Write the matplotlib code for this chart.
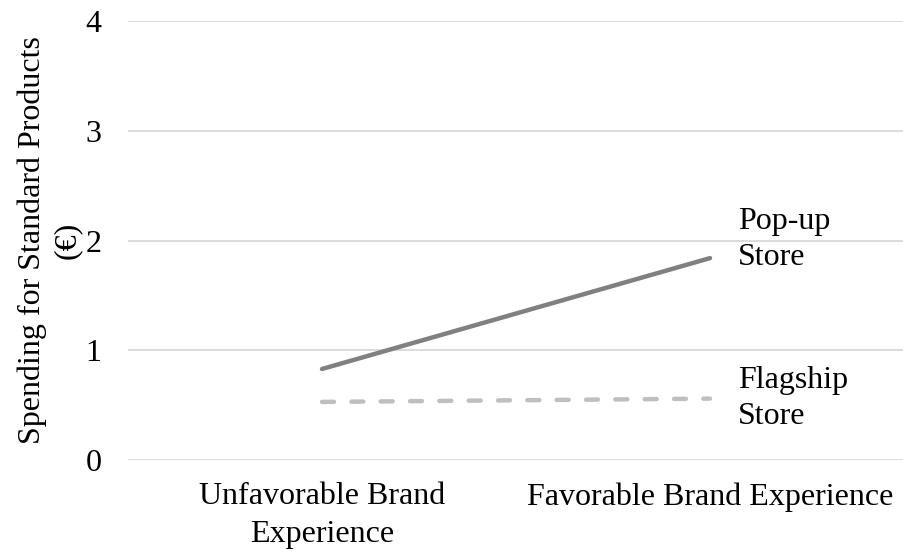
import matplotlib
matplotlib.use("Agg")
import matplotlib.pyplot as plt

categories = ["Unfavorable Brand\nExperience", "Favorable Brand Experience"]
popup_values = [0.83, 1.84]
flagship_values = [0.53, 0.56]
series_labels = ["Pop-up\nStore", "Flagship\nStore"]
y_ticks = [0, 1, 2, 3, 4]

plt.rcParams["font.family"] = ["Liberation Serif", "DejaVu Serif"]
FS = 23

fig = plt.figure(figsize=(9.04, 5.53), dpi=100)
ax = fig.add_axes([0.1416, 0.168, 0.8584, 0.794])

x = [0.5, 1.5]
ax.plot(x, popup_values, color="#808080", linewidth=3.2, solid_capstyle="round")
ax.plot(x, flagship_values, color="#bfbfbf", linewidth=3.2,
        linestyle=(0, (2.7, 3.9)), dash_capstyle="round")

# series names to the right of the last point
ax.text(1.572, popup_values[1] + 0.17, series_labels[0], fontsize=FS,
        va="center", ha="left", linespacing=1.35)
ax.text(1.572, flagship_values[1] + 0.0, series_labels[1], fontsize=FS,
        va="center", ha="left", linespacing=1.35)

ax.set_xlim(0, 2)
ax.set_ylim(0, 4)
ax.set_xticks(x)
ax.set_xticklabels(categories, fontsize=FS, linespacing=1.4)
ax.set_yticks(y_ticks)
ax.set_yticklabels([str(v) for v in y_ticks], fontsize=FS)
ax.tick_params(axis="both", length=0)
ax.tick_params(axis="x", pad=16)
ax.tick_params(axis="y", pad=19)

ax.grid(axis="y", color="#d9d9d9", linewidth=1.3)
ax.set_axisbelow(True)
for s in ax.spines.values():
    s.set_visible(False)

ax.set_ylabel("Spending for Standard Products\n(€)", fontsize=FS, linespacing=1.25)
ax.yaxis.set_label_coords(-0.06, 0.5)

fig.savefig("out.png", dpi=100)
